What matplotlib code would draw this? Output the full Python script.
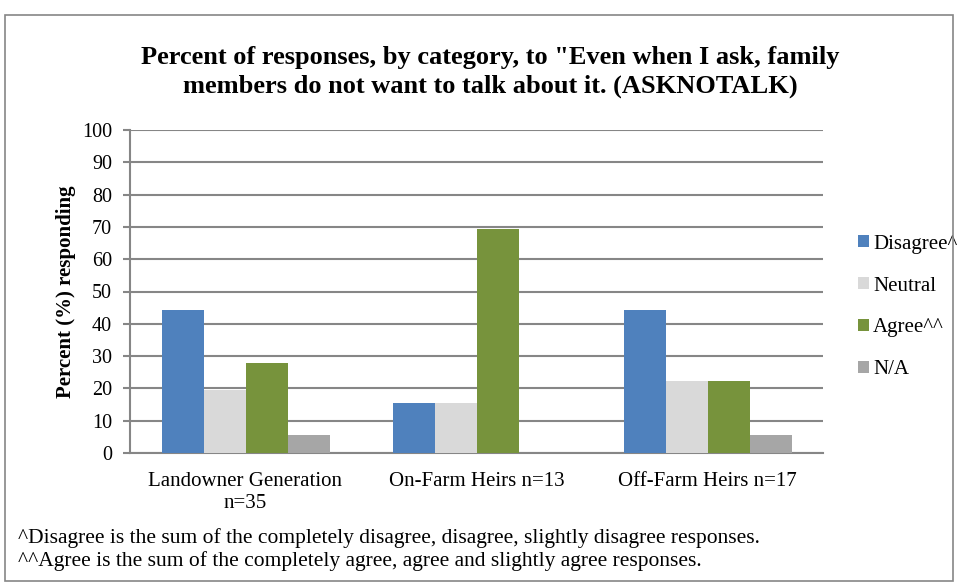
#!/usr/bin/env python3
import matplotlib
matplotlib.use("Agg")
import matplotlib.pyplot as plt
from matplotlib.patches import Rectangle
import numpy as np

categories = ["Landowner Generation\nn=35", "On-Farm Heirs n=13",
              "Off-Farm Heirs n=17"]
series = ["Disagree^", "Neutral", "Agree^^", "N/A"]
disagree = [44.4, 15.4, 44.4]
neutral = [19.4, 15.4, 22.2]
agree = [27.8, 69.2, 22.2]
na = [5.6, 0.0, 5.6]
colors = ["#4F81BD", "#D9D9D9", "#77933C", "#A6A6A6"]

title = ('Percent of responses, by category, to "Even when I ask, family\n'
         'members do not want to talk about it. (ASKNOTALK)')
notes = ["^Disagree is the sum of the completely disagree, disagree, "
         "slightly disagree responses.",
         "^^Agree is the sum of the completely agree, agree and slightly "
         "agree responses."]

plt.rcParams["font.family"] = ["Liberation Serif", "DejaVu Serif"]

W, H = 958, 584
fig = plt.figure(figsize=(W / 100, H / 100), dpi=100)

# outer frame of the chart
fig.patches.append(Rectangle((5 / W, 3 / H), 948 / W, (584 - 15 - 3) / H,
                             transform=fig.transFigure, fill=False,
                             edgecolor="#868686", linewidth=1.2))

left, right, top, bottom = 130, 823, 130, 453
ax = fig.add_axes([left / W, 1 - bottom / H, (right - left) / W,
                   (bottom - top) / H])

x = np.arange(len(categories))
bw = 42 / 231
values = [disagree, neutral, agree, na]
for i, (name, vals) in enumerate(zip(series, values)):
    ax.bar(x + (i - 1.5) * bw, vals, bw, color=colors[i], label=name,
           zorder=3)

ax.set_xlim(-0.5, 2.5)
ax.set_ylim(0, 100)
ax.set_yticks(range(0, 101, 10))
ax.yaxis.grid(True, color="#868686", linewidth=1.5, zorder=0)
ax.set_xticks(x)
ax.set_xticklabels(categories, fontsize=15, linespacing=1.2)
ax.tick_params(axis="x", length=0, pad=14)
ax.tick_params(axis="y", labelsize=14.5, length=5, width=1.5,
               color="#868686", pad=8)
for s in ["top", "right"]:
    ax.spines[s].set_visible(False)
for s in ["left", "bottom"]:
    ax.spines[s].set_color("#868686")
    ax.spines[s].set_linewidth(1.5)

ax.set_ylabel("Percent (%) responding", fontsize=15, fontweight="bold",
              labelpad=4)

fig.text(490 / W, 1 - 72 / H, title, ha="center", va="center",
         fontsize=19, fontweight="bold", linespacing=1.3)

ax.legend(loc="center left", bbox_to_anchor=(848 / W, 1 - 307 / H),
          bbox_transform=fig.transFigure, frameon=False, fontsize=15,
          handlelength=0.5, handleheight=0.5, handletextpad=0.2,
          labelspacing=1.1, borderpad=0)

fig.text(18 / W, 1 - 538 / H, notes[0], ha="left", va="center",
         fontsize=15.5)
fig.text(18 / W, 1 - 561 / H, notes[1], ha="left", va="center",
         fontsize=15.5)

fig.savefig("out.png", dpi=100)
